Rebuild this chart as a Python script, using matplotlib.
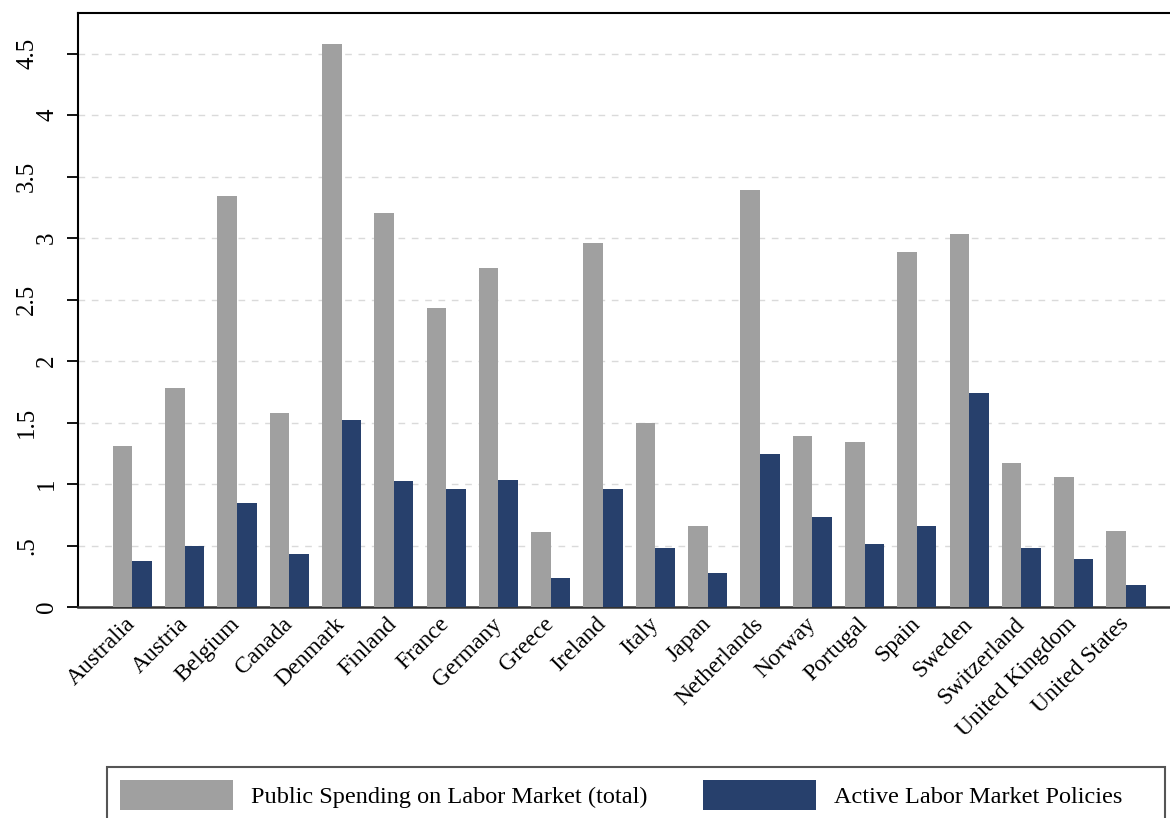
import matplotlib
matplotlib.use('Agg')
import matplotlib.pyplot as plt
import numpy as np
from matplotlib.transforms import offset_copy
from matplotlib.patches import Patch, Rectangle

countries = ['Australia', 'Austria', 'Belgium', 'Canada', 'Denmark', 'Finland',
             'France', 'Germany', 'Greece', 'Ireland', 'Italy', 'Japan',
             'Netherlands', 'Norway', 'Portugal', 'Spain', 'Sweden',
             'Switzerland', 'United Kingdom', 'United States']
total_spending = [1.31, 1.78, 3.34, 1.575, 4.58, 3.20, 2.435, 2.755, 0.61, 2.96,
                  1.50, 0.66, 3.39, 1.39, 1.345, 2.885, 3.03, 1.17, 1.06, 0.615]
active_policies = [0.376, 0.498, 0.846, 0.431, 1.52, 1.022, 0.957, 1.03, 0.236, 0.957,
                   0.477, 0.274, 1.244, 0.734, 0.515, 0.661, 1.742, 0.477, 0.388, 0.181]
series_names = ['Public Spending on Labor Market (total)', 'Active Labor Market Policies']
ytick_vals = [0, 0.5, 1, 1.5, 2, 2.5, 3, 3.5, 4, 4.5]
ytick_labels = ['0', '.5', '1', '1.5', '2', '2.5', '3', '3.5', '4', '4.5']

GRAY = '#a0a0a0'
NAVY = '#27406c'
FS = 17

plt.rcParams['font.family'] = ['Liberation Serif', 'DejaVu Serif']

fig = plt.figure(figsize=(11.7, 8.18), dpi=100)
ax = fig.add_axes([78/1170, 1 - 607/818, 1092/1170, 594/818])

x = np.arange(len(countries))
w = 0.375
ax.bar(x - w/2, total_spending, w, color=GRAY, zorder=3, linewidth=0)
ax.bar(x + w/2, active_policies, w, color=NAVY, zorder=3, linewidth=0)

ax.set_xlim(-1.04, 19.84)
ax.set_ylim(0, 4.83)

ax.set_yticks(ytick_vals)
ax.tick_params(axis='y', length=8, width=1.3, direction='out', labelleft=False, color='black')
ax.set_xticks(x)
ax.set_xticklabels(countries, rotation=45, ha='right', va='center',
                   rotation_mode='anchor', fontsize=FS)
ax.tick_params(axis='x', length=0, pad=10)

ax.yaxis.grid(True, color='#dadada', linestyle=(0, (4.8, 4.8)), linewidth=1.0, zorder=0)
ax.set_axisbelow(True)

for side in ['left', 'top']:
    ax.spines[side].set_color('black')
    ax.spines[side].set_linewidth(1.5)
ax.spines['bottom'].set_color('#333333')
ax.spines['bottom'].set_linewidth(1.8)
ax.spines['right'].set_visible(False)

for v, lab in zip(ytick_vals, ytick_labels):
    off = -25 if len(lab) == 1 else -45
    tr = offset_copy(ax.get_yaxis_transform(), fig=fig, x=off, y=0, units='dots')
    ax.text(0, v, lab, transform=tr, rotation=90, rotation_mode='anchor',
            ha='center', va='baseline', fontsize=18, clip_on=False)

# legend box (extends beyond the bottom edge as in the reference)
box = Rectangle((107/1170, 1 - 832/818), (1165 - 107)/1170, 65/818,
                transform=fig.transFigure, fill=False, edgecolor='#555555',
                linewidth=1.5, clip_on=False)
fig.patches.append(box)

handles = [Patch(facecolor=GRAY, linewidth=0), Patch(facecolor=NAVY, linewidth=0)]
leg = fig.legend(handles, series_names, loc='upper left',
                 bbox_to_anchor=(107/1170, 1 - 767/818),
                 ncol=2, fontsize=17.5, handlelength=4.65,
                 handleheight=1.5, handletextpad=0.74, columnspacing=2.26,
                 borderpad=0.55, frameon=False, borderaxespad=0)

fig.savefig('out.png', dpi=100)
